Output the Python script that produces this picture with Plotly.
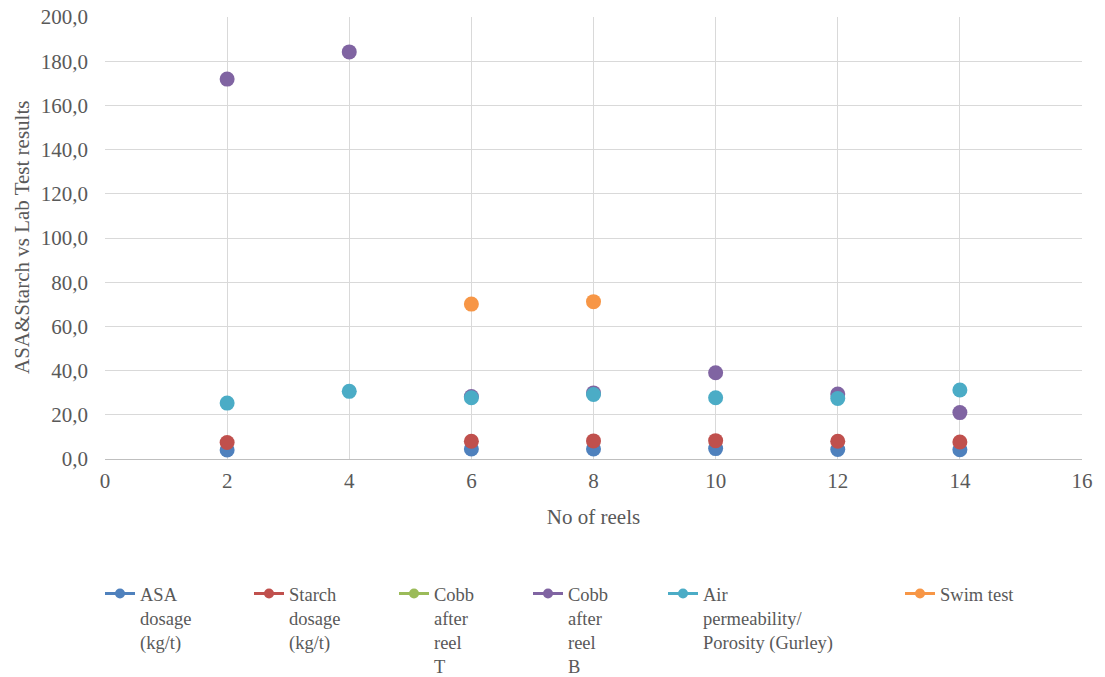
import plotly.graph_objects as go

# Reel numbers on the x axis
reels = [2, 4, 6, 8, 10, 12, 14]

# Lab results per reel (None = not measured)
asa_dosage = [4.1, None, 4.5, 4.5, 4.7, 4.3, 4.2]
starch_dosage = [7.5, None, 8.0, 8.2, 8.3, 8.0, 7.7]
cobb_top = [None, None, None, None, None, None, None]
cobb_bottom = [171.9, 184.2, 28.3, 29.9, 39.0, 29.4, 21.0]
air_permeability = [25.3, 30.6, 27.7, 29.2, 27.7, 27.4, 31.2]
swim_test = [None, None, 70.1, 71.2, None, None, None]

series_names = [
    "ASA<br>dosage<br>(kg/t)",
    "Starch<br>dosage<br>(kg/t)",
    "Cobb<br>after<br>reel<br>T",
    "Cobb<br>after<br>reel<br>B",
    "Air<br>permeability/<br>Porosity (Gurley)",
    "Swim test",
]
series_values = [asa_dosage, starch_dosage, cobb_top, cobb_bottom,
                 air_permeability, swim_test]
series_colors = ["#4F81BD", "#C0504D", "#9BBB59", "#8064A2", "#4BACC6", "#F79646"]

# left edge of each legend entry, in pixels of the 1105 px wide page
legend_left_px = [100, 249, 394, 528, 663, 900]

W, H = 1105, 677
M_L, M_R, M_T, M_B = 105, 23, 17, 218
plot_w = W - M_L - M_R

FONT = "Liberation Serif"
TXT = "#595959"

fig = go.Figure()

for i, (name, vals, col) in enumerate(zip(series_names, series_values, series_colors)):
    leg = "legend" if i == 0 else f"legend{i + 1}"
    # data points
    fig.add_trace(go.Scatter(
        x=reels, y=vals, mode="markers", name=name, showlegend=False,
        marker=dict(color=col, size=15, line=dict(width=0)),
    ))
    # legend key (line with marker)
    fig.add_trace(go.Scatter(
        x=[None], y=[None], mode="lines+markers", name=name, legend=leg,
        line=dict(color=col, width=3),
        marker=dict(color=col, size=10),
    ))

layout_legends = {}
for i, px in enumerate(legend_left_px):
    key = "legend" if i == 0 else f"legend{i + 1}"
    layout_legends[key] = dict(
        xref="container", yref="container",
        x=px / W, xanchor="left",
        y=1 - 575 / H, yanchor="top",
        valign="top", bgcolor="rgba(0,0,0,0)", borderwidth=0,
        font=dict(family=FONT, size=18.5, color=TXT),
    )

fig.update_layout(
    width=W, height=H,
    margin=dict(l=M_L, r=M_R, t=M_T, b=M_B, autoexpand=False),
    paper_bgcolor="white", plot_bgcolor="white",
    separators=",.",
    font=dict(family=FONT, size=21, color=TXT),
    **layout_legends,
)

# vertical axis title
fig.add_annotation(
    text="ASA&Starch vs Lab Test results",
    xref="paper", yref="paper", x=(22 - M_L) / plot_w, y=0.5,
    xanchor="center", yanchor="middle", textangle=-90, showarrow=False,
    font=dict(family=FONT, size=21, color=TXT),
)

fig.update_xaxes(
    range=[0, 16], dtick=2, tick0=0, automargin=True,
    showgrid=True, gridcolor="#D9D9D9", gridwidth=1,
    zeroline=False, showline=True, linecolor="#BFBFBF", linewidth=1,
    ticks="", ticklabelstandoff=3,
    title=dict(text="No of reels", font=dict(family=FONT, size=21, color=TXT), standoff=17),
    tickfont=dict(family=FONT, size=21, color=TXT),
)
fig.update_yaxes(
    range=[0, 200], dtick=20, tick0=0, tickformat=".1f", automargin=False,
    showgrid=True, gridcolor="#D9D9D9", gridwidth=1,
    zeroline=False, showline=False,
    ticks="", ticklabelstandoff=16,
    tickfont=dict(family=FONT, size=21, color=TXT),
)

fig.write_html("out.html")
